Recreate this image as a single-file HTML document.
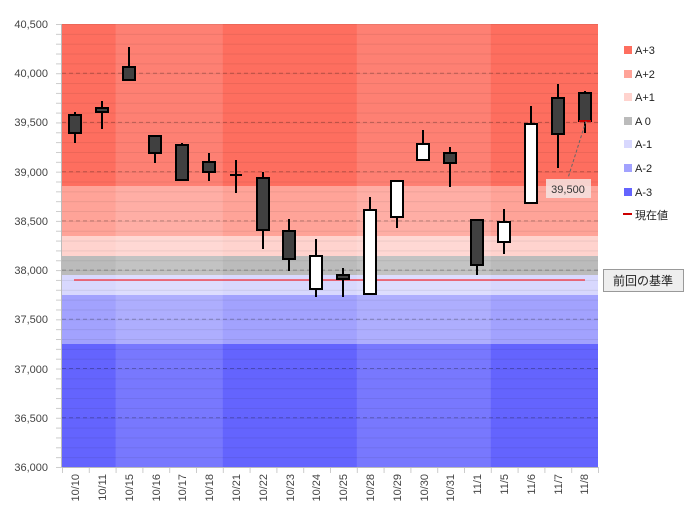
<!DOCTYPE html>
<html><head><meta charset="utf-8"><style>
body{margin:0;background:#fff}
svg text{font-family:"Liberation Sans","Noto Sans CJK JP",sans-serif}
</style></head><body>
<svg width="692" height="522" xmlns="http://www.w3.org/2000/svg">
<defs>
<pattern id="mg" x="62" y="24" width="536" height="9.844" patternUnits="userSpaceOnUse">
<line x1="0" y1="0.5" x2="536" y2="0.5" stroke="#000" stroke-opacity="0.07" stroke-width="1"/>
</pattern>
<pattern id="yt" x="56" y="24" width="6" height="9.844" patternUnits="userSpaceOnUse">
<line x1="0" y1="0.5" x2="6" y2="0.5" stroke="#ccc" stroke-width="1"/>
</pattern>
<pattern id="xt" x="62" y="467" width="26.8" height="6" patternUnits="userSpaceOnUse">
<line x1="0.5" y1="0" x2="0.5" y2="6" stroke="#ccc" stroke-width="1"/>
</pattern>
</defs>
<rect x="56" y="24" width="6" height="444" fill="url(#yt)"/>
<rect x="62" y="467" width="537" height="6" fill="url(#xt)"/>
<!-- bands -->
<rect x="62" y="24" width="536" height="162" fill="#fe6e5f"/>
<rect x="62" y="186" width="536" height="50" fill="#ffa398"/>
<rect x="62" y="236" width="536" height="20" fill="#ffd3ce"/>
<rect x="62" y="256" width="536" height="19" fill="#bbbbbb"/>
<rect x="62" y="275" width="536" height="20" fill="#d8d8fe"/>
<rect x="62" y="295" width="536" height="49" fill="#a2a2fe"/>
<rect x="62" y="344" width="536" height="123" fill="#6464fe"/>
<rect x="115.6" y="24" width="107.2" height="443" fill="#fff" fill-opacity="0.13"/>
<rect x="356.8" y="24" width="134" height="443" fill="#fff" fill-opacity="0.13"/>
<rect x="62" y="24" width="536" height="443" fill="url(#mg)"/>
<g stroke="#000" stroke-opacity="0.25" stroke-dasharray="4,3">
<line x1="62" x2="598" y1="73.2" y2="73.2"/><line x1="62" x2="598" y1="122.4" y2="122.4"/>
<line x1="62" x2="598" y1="171.7" y2="171.7"/><line x1="62" x2="598" y1="220.9" y2="220.9"/>
<line x1="62" x2="598" y1="270.1" y2="270.1"/><line x1="62" x2="598" y1="319.3" y2="319.3"/>
<line x1="62" x2="598" y1="368.5" y2="368.5"/><line x1="62" x2="598" y1="417.8" y2="417.8"/>
</g>
<line x1="74" y1="280" x2="585" y2="280" stroke="#f00" stroke-width="1"/>
<line x1="61.5" y1="24" x2="61.5" y2="467" stroke="#bbb"/>
<line x1="62" y1="467.5" x2="598" y2="467.5" stroke="#bbb"/>
<g fill="#444" font-size="11" text-anchor="end">
<text x="48" y="28">40,500</text><text x="48" y="77">40,000</text><text x="48" y="126">39,500</text>
<text x="48" y="176">39,000</text><text x="48" y="225">38,500</text><text x="48" y="274">38,000</text>
<text x="48" y="323">37,500</text><text x="48" y="373">37,000</text><text x="48" y="422">36,500</text>
<text x="48" y="471">36,000</text>
</g>
<g fill="#444" font-size="11" text-anchor="end">
<text transform="translate(79,474) rotate(-90)">10/10</text>
<text transform="translate(106,474) rotate(-90)">10/11</text>
<text transform="translate(133,474) rotate(-90)">10/15</text>
<text transform="translate(160,474) rotate(-90)">10/16</text>
<text transform="translate(186,474) rotate(-90)">10/17</text>
<text transform="translate(213,474) rotate(-90)">10/18</text>
<text transform="translate(240,474) rotate(-90)">10/21</text>
<text transform="translate(267,474) rotate(-90)">10/22</text>
<text transform="translate(294,474) rotate(-90)">10/23</text>
<text transform="translate(320,474) rotate(-90)">10/24</text>
<text transform="translate(347,474) rotate(-90)">10/25</text>
<text transform="translate(374,474) rotate(-90)">10/28</text>
<text transform="translate(401,474) rotate(-90)">10/29</text>
<text transform="translate(428,474) rotate(-90)">10/30</text>
<text transform="translate(454,474) rotate(-90)">10/31</text>
<text transform="translate(481,474) rotate(-90)">11/1</text>
<text transform="translate(508,474) rotate(-90)">11/5</text>
<text transform="translate(535,474) rotate(-90)">11/6</text>
<text transform="translate(562,474) rotate(-90)">11/7</text>
<text transform="translate(588,474) rotate(-90)">11/8</text>
</g>
<g stroke="#000" stroke-width="2">
<line x1="75" x2="75" y1="112" y2="143"/><rect x="69" y="115" width="12" height="18" fill="#404040"/>
<line x1="102" x2="102" y1="101" y2="129"/><rect x="96" y="108" width="12" height="4" fill="#404040"/>
<line x1="129" x2="129" y1="47" y2="80"/><rect x="123" y="67" width="12" height="13" fill="#404040"/>
<line x1="155" x2="155" y1="136" y2="163"/><rect x="149" y="136" width="12" height="17" fill="#404040"/>
<line x1="182" x2="182" y1="143" y2="180"/><rect x="176" y="145" width="12" height="35" fill="#404040"/>
<line x1="209" x2="209" y1="153" y2="181"/><rect x="203" y="162" width="12" height="10" fill="#404040"/>
<line x1="236" x2="236" y1="160" y2="193"/><line x1="230" x2="242" y1="175" y2="175"/>
<line x1="263" x2="263" y1="172" y2="249"/><rect x="257" y="178" width="12" height="52" fill="#404040"/>
<line x1="289" x2="289" y1="219" y2="271"/><rect x="283" y="231" width="12" height="28" fill="#404040"/>
<line x1="316" x2="316" y1="239" y2="297"/><rect x="310" y="256" width="12" height="33" fill="#fff"/>
<line x1="343" x2="343" y1="268" y2="297"/><rect x="337" y="275" width="12" height="4" fill="#404040"/>
<line x1="370" x2="370" y1="197" y2="294"/><rect x="364" y="210" width="12" height="84" fill="#fff"/>
<line x1="397" x2="397" y1="181" y2="228"/><rect x="391" y="181" width="12" height="36" fill="#fff"/>
<line x1="423" x2="423" y1="130" y2="160"/><rect x="417" y="144" width="12" height="16" fill="#fff"/>
<line x1="450" x2="450" y1="147" y2="187"/><rect x="444" y="153" width="12" height="10" fill="#404040"/>
<line x1="477" x2="477" y1="220" y2="275"/><rect x="471" y="220" width="12" height="45" fill="#404040"/>
<line x1="504" x2="504" y1="209" y2="254"/><rect x="498" y="222" width="12" height="20" fill="#fff"/>
<line x1="531" x2="531" y1="106" y2="203"/><rect x="525" y="124" width="12" height="79" fill="#fff"/>
<line x1="558" x2="558" y1="84" y2="168"/><rect x="552" y="98" width="12" height="36" fill="#404040"/>
<line x1="585" x2="585" y1="91" y2="133"/><rect x="579" y="93" width="12" height="28" fill="#404040"/>
</g>
<line x1="579" y1="121" x2="591" y2="121" stroke="#c00" stroke-width="2"/>
<line x1="586" y1="121" x2="568" y2="178" stroke="#666" stroke-dasharray="3,2"/>
<rect x="546" y="179" width="45" height="19" fill="#f4e4e2" fill-opacity="0.85"/>
<text x="568" y="193" font-size="11" fill="#333" text-anchor="middle">39,500</text>
<g font-size="11" fill="#222">
<rect x="624" y="46" width="8" height="8" fill="#fe6e5f"/><text x="635" y="54">A+3</text>
<rect x="624" y="70" width="8" height="8" fill="#ffa398"/><text x="635" y="78">A+2</text>
<rect x="624" y="93" width="8" height="8" fill="#ffd3ce"/><text x="635" y="101">A+1</text>
<rect x="624" y="117" width="8" height="8" fill="#bbbbbb"/><text x="635" y="125">A 0</text>
<rect x="624" y="140" width="8" height="8" fill="#d8d8fe"/><text x="635" y="148">A-1</text>
<rect x="624" y="164" width="8" height="8" fill="#a2a2fe"/><text x="635" y="172">A-2</text>
<rect x="624" y="188" width="8" height="8" fill="#6464fe"/><text x="635" y="196">A-3</text>
<rect x="623" y="213" width="9" height="2" fill="#c00"/><text x="635" y="219">現在値</text>
</g>
<rect x="603.5" y="269.5" width="80" height="22" fill="#eee" stroke="#999"/>
<text x="643" y="285" font-size="12" fill="#222" text-anchor="middle">前回の基準</text>
</svg>
</body></html>
